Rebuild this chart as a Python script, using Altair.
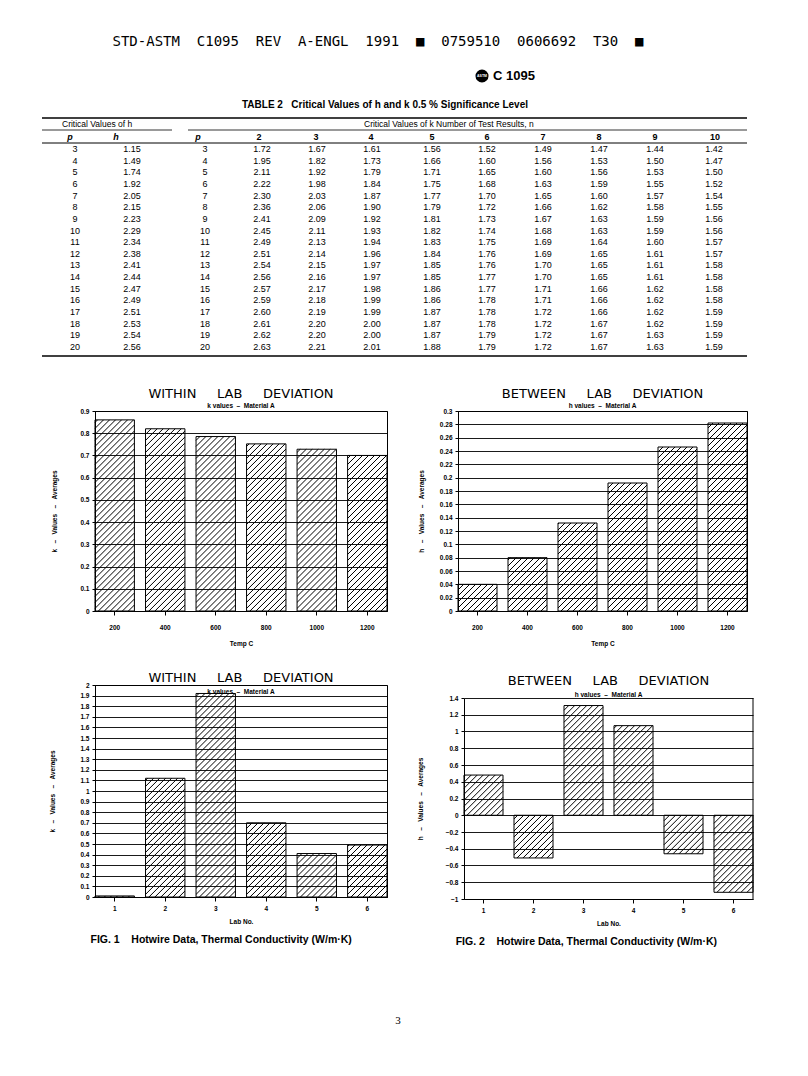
import altair as alt
import pandas as pd

# ---------------- data ----------------
temps = ["200", "400", "600", "800", "1000", "1200"]
k_temp = [0.86, 0.82, 0.785, 0.752, 0.728, 0.70]
h_temp = [0.04, 0.08, 0.132, 0.192, 0.246, 0.282]

labs = ["1", "2", "3", "4", "5", "6"]
k_lab = [0.01, 1.12, 1.92, 0.70, 0.41, 0.49]
h_lab = [0.48, -0.51, 1.31, 1.07, -0.46, -0.92]

p_rows = list(range(3, 21))
h_crit = [1.15, 1.49, 1.74, 1.92, 2.05, 2.15, 2.23, 2.29, 2.34, 2.38, 2.41, 2.44, 2.47, 2.49, 2.51, 2.53, 2.54, 2.56]
k2 = [1.72, 1.95, 2.11, 2.22, 2.30, 2.36, 2.41, 2.45, 2.49, 2.51, 2.54, 2.56, 2.57, 2.59, 2.60, 2.61, 2.62, 2.63]
k3 = [1.67, 1.82, 1.92, 1.98, 2.03, 2.06, 2.09, 2.11, 2.13, 2.14, 2.15, 2.16, 2.17, 2.18, 2.19, 2.20, 2.20, 2.21]
k4 = [1.61, 1.73, 1.79, 1.84, 1.87, 1.90, 1.92, 1.93, 1.94, 1.96, 1.97, 1.97, 1.98, 1.99, 1.99, 2.00, 2.00, 2.01]
k5 = [1.56, 1.66, 1.71, 1.75, 1.77, 1.79, 1.81, 1.82, 1.83, 1.84, 1.85, 1.85, 1.86, 1.86, 1.87, 1.87, 1.87, 1.88]
k6 = [1.52, 1.60, 1.65, 1.68, 1.70, 1.72, 1.73, 1.74, 1.75, 1.76, 1.76, 1.77, 1.77, 1.78, 1.78, 1.78, 1.79, 1.79]
k7 = [1.49, 1.56, 1.60, 1.63, 1.65, 1.66, 1.67, 1.68, 1.69, 1.69, 1.70, 1.70, 1.71, 1.71, 1.72, 1.72, 1.72, 1.72]
k8 = [1.47, 1.53, 1.56, 1.59, 1.60, 1.62, 1.63, 1.63, 1.64, 1.65, 1.65, 1.65, 1.66, 1.66, 1.66, 1.67, 1.67, 1.67]
k9 = [1.44, 1.50, 1.53, 1.55, 1.57, 1.58, 1.59, 1.59, 1.60, 1.61, 1.61, 1.61, 1.62, 1.62, 1.62, 1.62, 1.63, 1.63]
k10 = [1.42, 1.47, 1.50, 1.52, 1.54, 1.55, 1.56, 1.56, 1.57, 1.57, 1.58, 1.58, 1.58, 1.58, 1.59, 1.59, 1.59, 1.59]

col_keys = ["p1", "h", "p2", "2", "3", "4", "5", "6", "7", "8", "9", "10"]
col_headers = ["p", "h", "p", "2", "3", "4", "5", "6", "7", "8", "9", "10"]
col_values = [p_rows, h_crit, p_rows, k2, k3, k4, k5, k6, k7, k8, k9, k10]

NB = "\u00a0"
header_line = f"STD-ASTM{NB*2}C1095{NB*2}REV{NB*2}A-ENGL{NB*2}1991{NB*2}\u25a0{NB*2}0759510{NB*2}0606692{NB*2}T30{NB*2}\u25a0"
doc_id = "C 1095"
table_title = f"TABLE 2{NB*3}Critical Values of h and k 0.5 % Significance Level"
sub_h = "Critical Values of h"
sub_k = "Critical Values of k Number of Test Results, n"
cap1 = f"FIG.{NB}1{NB*4}Hotwire Data, Thermal Conductivity (W/m\u00b7K)"
cap2 = f"FIG.{NB}2{NB*4}Hotwire Data, Thermal Conductivity (W/m\u00b7K)"
page_no = "3"

# ---------------- layout constants ----------------
X0 = 93  # page x of the table's local origin
SANS = "Liberation Sans"
one = pd.DataFrame({"_": [0]})

# ---------------- table ----------------
rows = []
for key, vals in zip(col_keys, col_values):
    for p, v in zip(p_rows, vals):
        txt = str(v) if key in ("p1", "p2") else f"{v:.2f}"
        rows.append({"col": key, "row": str(p), "txt": txt})
tdf = pd.DataFrame(rows)

col_x = [73, 130, 203, 260, 315, 370, 430, 485, 541, 597, 653, 712]
hdr_x = [68, 114, 196, 257, 314, 369, 430, 485, 541, 597, 653, 713]
yscale_rows = alt.Scale(type="point", domain=[str(p) for p in p_rows], range=[148, 346], padding=0)

layers = []
for key, cx in zip(col_keys, col_x):
    layers.append(
        alt.Chart(tdf).transform_filter(alt.datum.col == key)
        .mark_text(font=SANS, fontSize=9, color="black")
        .encode(x=alt.value(cx - X0),
                y=alt.Y("row:O", scale=yscale_rows, axis=None),
                text="txt:N")
    )
for lab, hx in zip(col_headers, hdr_x):
    layers.append(
        alt.Chart(one).mark_text(text=lab, font=SANS, fontSize=9, fontWeight="bold",
                                 fontStyle="italic" if lab in ("p", "h") else "normal", color="black")
        .encode(x=alt.value(hx - X0), y=alt.value(136))
    )


def text_at(t, x, y, **kw):
    return alt.Chart(one).mark_text(text=t, color="black", **kw).encode(x=alt.value(x - X0), y=alt.value(y))


def hline(x1, x2, y, w=1.0):
    return alt.Chart(one).mark_rule(color="black", strokeWidth=w).encode(
        x=alt.value(x1 - X0), x2=alt.value(x2 - X0), y=alt.value(y))


layers += [
    text_at(header_line, 376, 41, font="DejaVu Sans Mono", fontSize=14, align="center"),
    alt.Chart(one).mark_point(shape="circle", filled=True, color="black", size=170, opacity=1)
    .encode(x=alt.value(480 - X0), y=alt.value(75)),
    text_at("ASTM", 480, 75, font=SANS, fontSize=3.5, fontWeight="bold", align="center").encode(color=alt.value("white")),
    text_at(doc_id, 491, 75, font=SANS, fontSize=13, fontWeight="bold", align="left"),
    text_at(table_title, 383, 104, font=SANS, fontSize=10, fontWeight="bold", align="center"),
    text_at(sub_h, 60, 123, font=SANS, fontSize=8.5, align="left"),
    text_at(sub_k, 362, 123, font=SANS, fontSize=8.5, align="left"),
    hline(40, 745, 117, 1.6),
    hline(40, 170, 129, 0.8),
    hline(186, 745, 129, 0.8),
    hline(40, 745, 142, 1.0),
    hline(40, 745, 355, 1.6),
]

table = alt.layer(*layers).properties(
    width=660, height=361, view=alt.ViewBackground(stroke="transparent"))

# ---------------- bar charts ----------------
PAD_IN = 0.22
BAND = 1 - PAD_IN          # bar width in step units
HATCH_PX = 6.0             # horizontal spacing of hatch lines, px


def bar_chart(cats, vals, title, subtitle, ytitle, xtitle, ydomain, yticks, width, height,
              ytitle_pad, title_offset, sub_pad, xlabel_pad, xtitle_pad, yrange=None, frame=True):
    df = pd.DataFrame({"cat": cats, "val": vals})
    n = len(cats)
    span_units = n - PAD_IN
    if yrange is None:
        ysc = alt.Scale(domain=ydomain, nice=False)
        plot_h = height
    else:
        ysc = alt.Scale(domain=ydomain, nice=False, range=yrange)
        plot_h = yrange[0] - yrange[1]
    step_px = width / span_units
    dpy = (ydomain[1] - ydomain[0]) / plot_h      # data units per px (y)
    m = step_px * dpy                              # 45 deg slope in data units per step unit
    g = HATCH_PX * dpy                             # vertical spacing in data units

    yaxis = alt.Axis(title=ytitle, values=yticks, format="~g", grid=True,
                     tickSize=3, labelPadding=3, titlePadding=ytitle_pad,
                     labelOverlap=False, zindex=1)

    bars = alt.Chart(df).mark_bar(fill="white", stroke="black", strokeWidth=1).encode(
        x=alt.X("cat:N", sort=cats, scale=alt.Scale(paddingInner=PAD_IN, paddingOuter=0),
                axis=alt.Axis(title=xtitle, labelAngle=0, tickSize=4, labelPadding=xlabel_pad,
                              titlePadding=xtitle_pad, zindex=1)),
        y=alt.Y("val:Q", scale=ysc, axis=yaxis, title=ytitle),
    )

    hatch = (
        alt.Chart(df)
        .transform_window(rn="row_number()")
        .transform_calculate(
            i="datum.rn - 1",
            y0="min(0, datum.val)",
            y1="max(0, datum.val)",
            j="sequence(0, 80)",
        )
        .transform_flatten(["j"])
        .transform_calculate(b=f"-{m}*{BAND} + datum.j*{g}")
        .transform_calculate(
            us=f"max(0, -datum.b/{m})",
            ue=f"min({BAND}, (datum.y1 - datum.y0 - datum.b)/{m})",
        )
        .transform_filter("datum.us < datum.ue")
        .transform_calculate(
            xs="datum.i + datum.us",
            xe="datum.i + datum.ue",
            ys=f"datum.y0 + {m}*datum.us + datum.b",
            ye=f"datum.y0 + {m}*datum.ue + datum.b",
        )
        .mark_rule(color="black", strokeWidth=1.0)
        .encode(
            x=alt.X("xs:Q", scale=alt.Scale(domain=[0, span_units], nice=False, zero=False), axis=None),
            x2="xe:Q",
            y=alt.Y("ys:Q", scale=ysc, axis=yaxis, title=ytitle),
            y2="ye:Q",
        )
    )

    parts = [bars, hatch]
    if not frame:
        parts.append(alt.Chart(one).mark_rule(color="black", strokeWidth=1).encode(
            x=alt.value(width), y=alt.value(yrange[1]), y2=alt.value(yrange[0])))
    ch = alt.layer(*parts).resolve_scale(x="independent").properties(
        width=width, height=height,
        title=alt.TitleParams(text=title, subtitle=subtitle, font="DejaVu Sans", fontSize=13,
                              fontWeight="normal", color="black", subtitleFont=SANS,
                              subtitleFontSize=6.5, subtitleFontWeight="bold", subtitleColor="black",
                              subtitlePadding=sub_pad, offset=title_offset, anchor="middle"))
    if not frame:
        ch = ch.properties(view=alt.ViewBackground(stroke="transparent"))
    return ch


T_WITHIN = f"WITHIN{NB*5}LAB{NB*5}DEVIATION"
T_BETWEEN = f"BETWEEN{NB*5}LAB{NB*5}DEVIATION"
S_K = f"k values{NB}{NB}\u2013{NB}{NB}Material A"
S_H = f"h values{NB}{NB}\u2013{NB}{NB}Material A"
Y_K = f"k{NB*3}\u2013{NB*3}Values{NB*3}\u2013{NB*3}Averages"
Y_H = f"h{NB*3}\u2013{NB*3}Values{NB*3}\u2013{NB*3}Averages"

ticks_k1 = [0, 0.1, 0.2, 0.3, 0.4, 0.5, 0.6, 0.7, 0.8, 0.9]
ticks_h1 = [0, 0.02, 0.04, 0.06, 0.08, 0.1, 0.12, 0.14, 0.16, 0.18, 0.2, 0.22, 0.24, 0.26, 0.28, 0.3]
ticks_k2 = [0, 0.1, 0.2, 0.3, 0.4, 0.5, 0.6, 0.7, 0.8, 0.9, 1, 1.1, 1.2, 1.3, 1.4, 1.5, 1.6, 1.7, 1.8, 1.9, 2]
ticks_h2 = [-1, -0.8, -0.6, -0.4, -0.2, 0, 0.2, 0.4, 0.6, 0.8, 1, 1.2, 1.4]

tl = bar_chart(temps, k_temp, T_WITHIN, S_K, Y_K, "Temp C", [0, 0.9], ticks_k1, 292, 200, 22, -1, 2, 9.5, 9)
tr = bar_chart(temps, h_temp, T_BETWEEN, S_H, Y_H, "Temp C", [0, 0.3], ticks_h1, 289, 200, 15, -1, 2, 9.5, 9)
bl = bar_chart(labs, k_lab, T_WITHIN, S_K, Y_K, "Lab No.", [0, 2], ticks_k2, 292, 212, 24, -13, 4, 4, 7)
br = bar_chart(labs, h_lab, T_BETWEEN, S_H, Y_H, "Lab No.", [-1, 1.4], ticks_h2, 289, 214, 22, -13, 4, 4, 7,
               yrange=[214, 13], frame=False)

capkw = dict(orient="bottom", anchor="start", font=SANS, fontSize=10.5, fontWeight="bold",
             color="black", offset=9)
row1 = alt.hconcat(tl, tr, spacing=29)
row2 = alt.hconcat(alt.vconcat(bl, title=alt.TitleParams(cap1, dx=41, **capkw)),
                   alt.vconcat(br, title=alt.TitleParams(cap2, dx=39, **capkw)),
                   spacing=28)

chart = alt.vconcat(
    table, row1, row2, spacing=24,
    title=alt.TitleParams(page_no, orient="bottom", anchor="middle", font="Liberation Serif",
                          fontSize=11, fontWeight="normal", color="black", offset=68),
).properties(
    padding={"left": 40, "top": 0, "right": 0, "bottom": 0}, background="white"
).configure_view(
    stroke="black", strokeWidth=1
).configure_axis(
    labelFont=SANS, labelFontSize=6.5, labelFontWeight="bold", labelColor="black",
    titleFont=SANS, titleFontSize=6.5, titleFontWeight="bold", titleColor="black",
    domainColor="black", tickColor="black", gridColor="black", gridOpacity=1, gridWidth=0.9,
)

chart.save("out.html", embed_options={"renderer": "svg", "actions": False})
